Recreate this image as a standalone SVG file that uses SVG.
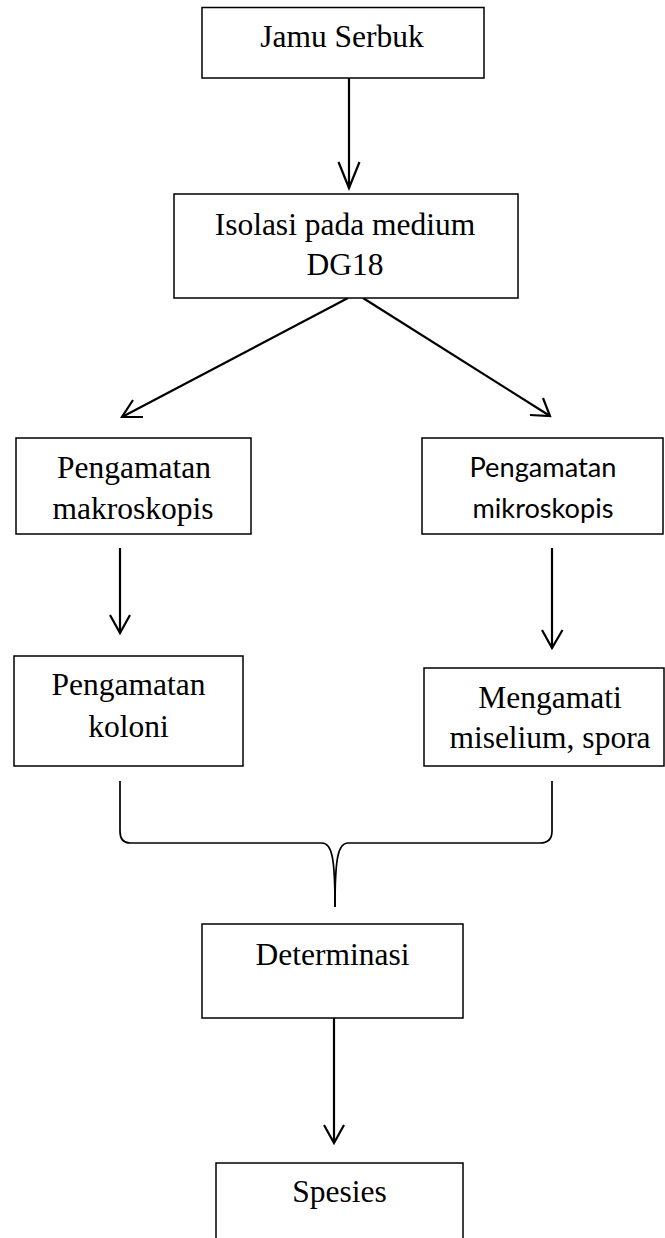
<svg xmlns="http://www.w3.org/2000/svg" width="665" height="1238" viewBox="0 0 665 1238">
<style>
  .box { fill: #ffffff; stroke: #000000; stroke-width: 1.5; }
  .t { font-family: "Liberation Serif", "Times New Roman", serif; font-size: 31.5px; fill: #000000; text-anchor: middle; }
  .s { font-family: Lato, "Open Sans", sans-serif; font-size: 27px; fill: #000000; text-anchor: middle; }
  .ln { fill: none; stroke: #000000; stroke-width: 2.2; }
  .hd { fill: none; stroke: #000000; stroke-width: 2.2; stroke-linejoin: miter; }
  .br { fill: none; stroke: #000000; stroke-width: 1.7; }
</style>
<rect width="665" height="1238" fill="#ffffff"/>
<g id="connectors">
  <line class="ln" x1="349" y1="78" x2="349" y2="188"/>
  <polyline class="hd" points="338.5,162 349,188 359.5,162"/>
  <line class="ln" x1="348" y1="298" x2="122" y2="417"/>
  <polyline class="hd" points="133,400 122,417 143,417"/>
  <line class="ln" x1="363" y1="298" x2="550" y2="416"/>
  <polyline class="hd" points="530,415 550,416 543,398"/>
  <line class="ln" x1="120" y1="548" x2="120" y2="633"/>
  <polyline class="hd" points="110,615 120,633 130,615"/>
  <line class="ln" x1="552" y1="548" x2="552" y2="648"/>
  <polyline class="hd" points="542,630 552,648 562.5,630"/>
  <path class="br" d="M120,781 L120,831 Q120,843 130,843 L322,843 C332,843 335,858 335,907"/>
  <path class="br" d="M552,781 L552,831 Q552,843 540,843 L348,843 C338,843 335,858 335,907"/>
  <line class="ln" x1="334" y1="1018" x2="334" y2="1143"/>
  <polyline class="hd" points="324,1125 334,1143 344,1125"/>
</g>
<g id="node-jamu">
  <rect class="box" x="202" y="7.5" width="282" height="70.5"/>
  <text class="t" x="342" y="47">Jamu Serbuk</text>
</g>
<g id="node-isolasi">
  <rect class="box" x="174" y="194" width="344" height="104"/>
  <text class="t" x="345" y="235">Isolasi pada medium</text>
  <text class="t" x="345" y="275">DG18</text>
</g>
<g id="node-makro">
  <rect class="box" x="16" y="438" width="235" height="96"/>
  <text class="t" x="134" y="478">Pengamatan</text>
  <text class="t" x="133" y="519">makroskopis</text>
</g>
<g id="node-mikro">
  <rect class="box" x="422" y="438" width="241" height="96"/>
  <text class="s" x="543" y="477" textLength="147" lengthAdjust="spacingAndGlyphs">Pengamatan</text>
  <text class="s" x="543" y="518" textLength="141" lengthAdjust="spacingAndGlyphs">mikroskopis</text>
</g>
<g id="node-koloni">
  <rect class="box" x="14" y="656" width="229" height="110"/>
  <text class="t" x="128.5" y="695">Pengamatan</text>
  <text class="t" x="128.5" y="737">koloni</text>
</g>
<g id="node-miselium">
  <rect class="box" x="424" y="668" width="240" height="98"/>
  <text class="t" x="550" y="708">Mengamati</text>
  <text class="t" x="550" y="748">miselium, spora</text>
</g>
<g id="node-determinasi">
  <rect class="box" x="202" y="924" width="261" height="94"/>
  <text class="t" x="332.5" y="965">Determinasi</text>
</g>
<g id="node-spesies">
  <rect class="box" x="216" y="1163" width="247" height="90"/>
  <text class="t" x="339.5" y="1202">Spesies</text>
</g>
</svg>
